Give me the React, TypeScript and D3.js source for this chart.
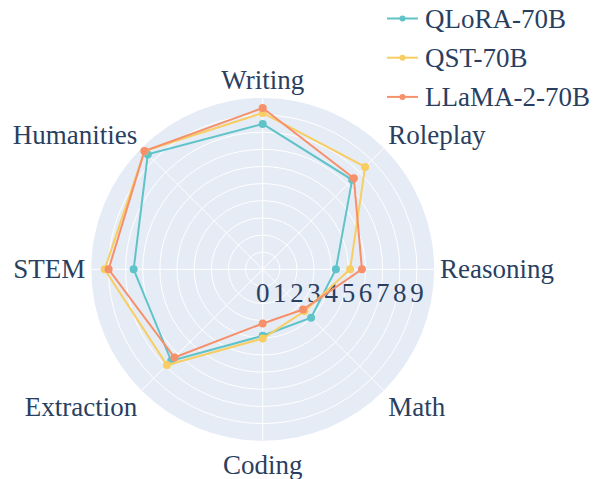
import * as d3 from "d3";
import {useEffect, useRef} from "react";

const WIDTH = 594;
const HEIGHT = 479;
const CENTER = {x: 262.7, y: 269.3};
const RADIUS = 171.4;

const categories = ["Writing", "Roleplay", "Reasoning", "Math", "Coding", "Extraction", "STEM", "Humanities"];
const qloraScores = [8.48, 7.38, 4.27, 3.99, 3.88, 7.55, 7.53, 9.48];
const qstScores = [9.12, 8.45, 5.10, 3.45, 4.04, 7.90, 9.22, 9.75];
const llamaScores = [9.41, 7.52, 5.79, 3.32, 3.16, 7.28, 8.99, 9.76];
const radialTicks = [0, 1, 2, 3, 4, 5, 6, 7, 8, 9];

const seriesNames = ["QLoRA-70B", "QST-70B", "LLaMA-2-70B"];
const seriesValues = [qloraScores, qstScores, llamaScores];
const seriesColors = ["#5fc3c8", "#f8cd62", "#f6906a"];

const FONT = "Liberation Serif";
const TEXT_COLOR = "#2a3f5f";

const App = () => {
    const ref = useRef<SVGSVGElement>(null);

    useEffect(() => {
        const svg = d3.select(ref.current);
        svg.selectAll("*").remove();

        const r = d3.scaleLinear().domain([0, 10]).range([0, RADIUS]);
        // angle 0 = top, clockwise, same convention as d3.lineRadial
        const angle = d3.scaleLinear().domain([0, categories.length]).range([0, 2 * Math.PI]);

        const g = svg.append("g").attr("transform", `translate(${CENTER.x},${CENTER.y})`);

        // background disc
        g.append("circle").attr("r", r(10)).attr("fill", "#e5ecf6");

        // rings
        g.selectAll("circle.ring")
            .data(d3.range(1, 10))
            .join("circle")
            .attr("class", "ring")
            .attr("r", d => r(d))
            .attr("fill", "none")
            .attr("stroke", "white")
            .attr("stroke-width", 1);

        // spokes
        g.selectAll("line.spoke")
            .data(categories)
            .join("line")
            .attr("class", "spoke")
            .attr("x1", 0).attr("y1", 0)
            .attr("x2", (d, i) => r(10) * Math.sin(angle(i)))
            .attr("y2", (d, i) => -r(10) * Math.cos(angle(i)))
            .attr("stroke", "white")
            .attr("stroke-width", 1);

        // category labels
        const pad = 6;
        g.selectAll("text.cat")
            .data(categories)
            .join("text")
            .attr("class", "cat")
            .text(d => d)
            .style("font-family", FONT)
            .style("font-size", "27px")
            .attr("fill", TEXT_COLOR)
            .attr("text-anchor", (d, i) => {
                const s = Math.sin(angle(i));
                return s > 0.1 ? "start" : s < -0.1 ? "end" : "middle";
            })
            .attr("x", (d, i) => (r(10) + pad) * Math.sin(angle(i)))
            .attr("y", (d, i) => {
                const c = Math.cos(angle(i));
                const y = -(r(10) + pad) * c;
                const shift = c > 0 ? -c * 12 : -c * 18;
                return y + shift + 9;
            });

        // radial tick labels
        g.selectAll("text.tick")
            .data(radialTicks)
            .join("text")
            .attr("class", "tick")
            .text(d => d)
            .style("font-family", FONT)
            .style("font-size", "27px")
            .attr("fill", TEXT_COLOR)
            .attr("text-anchor", "middle")
            .attr("x", d => r(d))
            .attr("y", 33);

        const line = d3.lineRadial<number>()
            .angle((d, i) => angle(i))
            .radius(d => r(d))
            .curve(d3.curveLinearClosed);

        seriesValues.forEach((vals, k) => {
            g.append("path")
                .attr("d", line(vals))
                .attr("fill", "none")
                .attr("stroke", seriesColors[k])
                .attr("stroke-width", 2);
            g.selectAll(`circle.pt${k}`)
                .data(vals)
                .join("circle")
                .attr("class", `pt${k}`)
                .attr("cx", (d, i) => r(d) * Math.sin(angle(i)))
                .attr("cy", (d, i) => -r(d) * Math.cos(angle(i)))
                .attr("r", 4)
                .attr("fill", seriesColors[k]);
        });

        // legend
        const legend = svg.append("g").attr("transform", "translate(387,18.5)");
        const items = legend.selectAll("g")
            .data(seriesNames)
            .join("g")
            .attr("transform", (d, i) => `translate(0,${i * 39.2})`);
        items.append("line")
            .attr("x1", 0).attr("x2", 31)
            .attr("stroke", (d, i) => seriesColors[i])
            .attr("stroke-width", 2);
        items.append("circle")
            .attr("cx", 15.5)
            .attr("r", 3)
            .attr("fill", (d, i) => seriesColors[i]);
        items.append("text")
            .text(d => d)
            .attr("x", 38)
            .attr("y", 9)
            .style("font-family", FONT)
            .style("font-size", "27px")
            .attr("fill", TEXT_COLOR);
    }, []);

    return (<div style={{position: "absolute", left: 0, top: 0}}>
        <svg ref={ref} width={WIDTH} height={HEIGHT} style={{display: "block", background: "white"}}/>
    </div>);
}

export default App;
